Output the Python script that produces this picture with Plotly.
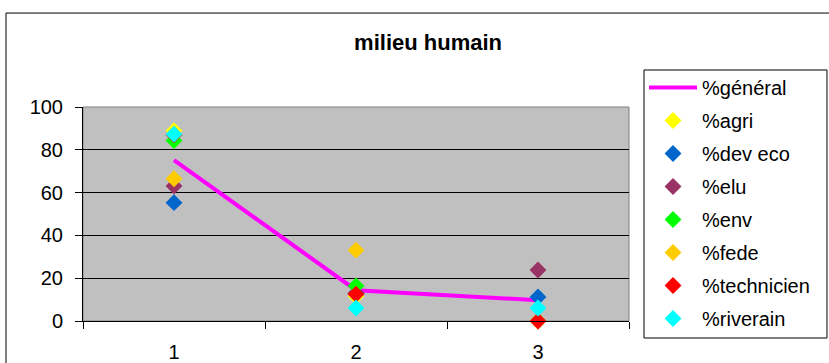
import plotly.graph_objects as go

categories = ["1", "2", "3"]

general = [75.2, 14.4, 9.7]
agri = [88.9, 11.6, 0]
dev_eco = [55.3, 12.8, 11.2]
elu = [63.1, 13.0, 23.8]
env = [84.3, 16.4, 0]
fede = [66.5, 33.1, 0]
technicien = [87.0, 12.5, 0]
riverain = [87.3, 6.1, 6.1]

series = [
    ("%agri", agri, "#FFFF00"),
    ("%dev eco", dev_eco, "#0066CC"),
    ("%elu", elu, "#993366"),
    ("%env", env, "#00FF00"),
    ("%fede", fede, "#FFCC00"),
    ("%technicien", technicien, "#FF0000"),
    ("%riverain", riverain, "#00FFFF"),
]

fig = go.Figure()

fig.add_trace(go.Scatter(x=categories, y=general, name="%général", mode="lines",
                         line=dict(color="#FF00FF", width=4), legendgroup="g0",
                         cliponaxis=False))

for i, (name, vals, col) in enumerate(series):
    fig.add_trace(go.Scatter(x=categories, y=vals, name=name, mode="markers",
                             marker=dict(symbol="diamond", size=13, color=col),
                             legendgroup="g%d" % (i + 1), cliponaxis=False))

# plot area border (grey), chart border and legend frame (black)
fig.add_shape(type="rect", xref="paper", yref="paper", x0=0, x1=1, y0=0, y1=1,
              line=dict(color="#808080", width=1), layer="below")
fig.add_shape(type="rect", xref="paper", yref="paper", x0=-0.141, x1=1.4, y0=-0.3, y1=1.439,
              line=dict(color="black", width=1), layer="below")
fig.add_shape(type="rect", xref="paper", yref="paper", x0=1.0275, x1=1.3626, y0=-0.0794, y1=1.1729,
              line=dict(color="black", width=1), layer="below")

fig.update_layout(
    width=829, height=363, autosize=False,
    margin=dict(l=83, r=200, t=107, b=42, autoexpand=False),
    paper_bgcolor="white", plot_bgcolor="#C0C0C0",
    font=dict(family="Liberation Sans, Arial, sans-serif", color="#000000", size=20),
    title=dict(text="<b>milieu humain</b>", x=0.632, xref="paper", xanchor="center",
               y=0.884, yanchor="middle", font=dict(size=22)),
    legend=dict(x=1.0275, y=1.182, xanchor="left", yanchor="top",
                bgcolor="rgba(0,0,0,0)", borderwidth=0, tracegroupgap=4,
                font=dict(size=20), itemwidth=48, maxheight=320),
    showlegend=True,
)

fig.update_xaxes(type="category", range=[-0.5, 2.5], showline=True, linecolor="black", linewidth=1,
                 ticks="outside", tickson="boundaries", ticklen=7, tickcolor="black",
                 ticklabelstandoff=13, showgrid=False, tickfont=dict(size=20))
fig.update_yaxes(range=[0, 100], dtick=20, showline=True, linecolor="black", linewidth=1,
                 ticks="outside", ticklen=7, tickcolor="black", ticklabelstandoff=8,
                 showgrid=True, gridcolor="black", gridwidth=1, zeroline=False,
                 tickfont=dict(size=20))

# drop the default page margin so the figure sits at the window's top-left corner
fig.write_html("out.html", config={"displayModeBar": False},
               post_script="document.body.style.margin='0';")
